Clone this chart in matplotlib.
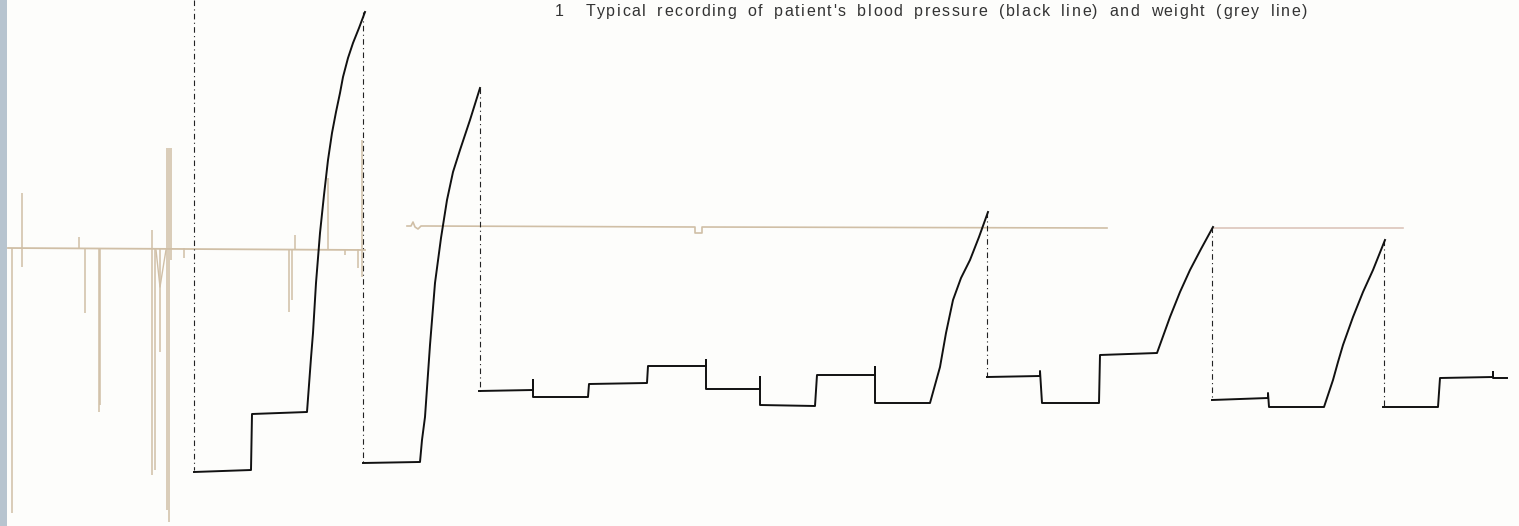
import matplotlib
matplotlib.use("Agg")
import matplotlib.pyplot as plt

# trace values (x = chart position, y = pen height, top = 0)
# blood pressure (black), solid parts between the dash-dotted pen returns
bp_a_x = [194, 251, 252, 307, 309, 311, 313, 316, 320, 324, 328, 332, 336, 340, 343, 348, 353, 359, 365]
bp_a_y = [472, 470, 414, 412, 385, 358, 333, 283, 233, 195, 160, 133, 112, 93, 77, 58, 43, 28, 12]

bp_b_x = [363, 419, 420, 422, 425, 430, 435, 441, 447, 453, 460, 470, 475, 480]
bp_b_y = [463, 462, 462, 440, 417, 345, 283, 238, 200, 172, 150, 120, 104, 88]

bp_c_x = [479, 533, 533, 533, 588, 589, 647, 648, 706, 706, 706, 760, 760, 760,
          815, 817, 875, 875, 875, 930, 935, 940, 946, 953, 961, 970, 979, 988]
bp_c_y = [391, 390, 380, 397, 397, 384, 383, 366, 366, 360, 389, 389, 377, 405,
          406, 375, 375, 367, 403, 403, 385, 367, 333, 300, 278, 260, 237, 212]

bp_d_x = [987, 1040, 1040, 1042, 1099, 1100, 1157, 1170, 1180, 1190, 1201, 1213]
bp_d_y = [377, 376, 371, 403, 403, 355, 353, 317, 292, 270, 249, 227]

bp_e_x = [1212, 1268, 1268, 1269, 1324, 1328, 1333, 1338, 1343, 1353, 1363, 1373, 1385]
bp_e_y = [400, 398, 393, 407, 407, 395, 380, 362, 345, 317, 292, 270, 240]

bp_f_x = [1383, 1438, 1440, 1493, 1493, 1493, 1507]
bp_f_y = [407, 407, 378, 377, 372, 378, 378]

# pen return lines (x, top, bottom)
ret_x = [194, 363, 480, 987, 1212, 1384]
ret_top = [0, 12, 88, 212, 227, 240]
ret_bot = [470, 462, 392, 377, 400, 407]

# weight (grey), first part is noisy
wt1_x = [8, 365]
wt1_y = [248, 250]
spike_x = [12, 22, 79, 85, 99, 100, 152, 155, 160, 167, 169, 171, 184,
           289, 292, 295, 328, 345, 358, 362]
spike_top = [248, 193, 237, 248, 248, 248, 230, 248, 248, 148, 148, 148, 248,
             249, 249, 235, 178, 249, 249, 140]
spike_bot = [513, 267, 249, 313, 412, 405, 475, 470, 352, 510, 522, 260, 258,
             312, 300, 250, 250, 255, 268, 277]
zig_x = [156, 160, 164, 166]
zig_y = [250, 287, 262, 250]

wt2_x = [407, 411, 413, 415, 418, 421, 425, 695, 695, 702, 702, 1107]
wt2_y = [226, 226, 222, 227, 229, 226, 226, 227, 233, 233, 227, 228]

wt3_x = [1213, 1403]
wt3_y = [228, 228]

caption = "1  Typical recording of patient's blood pressure (black line) and weight (grey line)"
caption_start, caption_end = 555, 1307

fig = plt.figure(figsize=(15.19, 5.26), dpi=100)
fig.patch.set_facecolor("#fdfdfb")
ax = fig.add_axes([0, 0, 1, 1])
ax.set_xlim(0, 1519)
ax.set_ylim(526, 0)
ax.axis("off")

# scanned page edge on the left
ax.axvspan(0, 7, color="#b7c4cf", lw=0)

grey = "#d0bfa6"
ax.plot(wt1_x, wt1_y, color=grey, lw=1.3)
ax.vlines(spike_x, spike_top, spike_bot, color=grey, lw=1.1)
ax.plot(zig_x, zig_y, color=grey, lw=1.0)
ax.plot(wt2_x, wt2_y, color=grey, lw=1.2)
ax.plot(wt3_x, wt3_y, color="#dcc5bb", lw=1.2)

ax.vlines(ret_x, ret_top, ret_bot, color="#222222", lw=0.8,
          linestyles=[(0, (5, 3, 1, 3))])

for xs, ys in [(bp_a_x, bp_a_y), (bp_b_x, bp_b_y), (bp_c_x, bp_c_y),
               (bp_d_x, bp_d_y), (bp_e_x, bp_e_y), (bp_f_x, bp_f_y)]:
    ax.plot(xs, ys, color="#111111", lw=1.4, solid_joinstyle="round")

# caption with wide letter spacing like the printed original
renderer = fig.canvas.get_renderer()
fs = 11.5
texts = []
widths = []
for ch in caption:
    t = ax.text(0, 16, ch if ch != " " else "n", fontsize=fs, family="Liberation Sans",
                color="#333333", va="baseline", ha="left")
    w = t.get_window_extent(renderer=renderer).width
    if ch == " ":
        t.set_text("")
        w *= 0.95
    texts.append(t)
    widths.append(w)
tracking = (caption_end - caption_start - sum(widths)) / (len(caption) - 1)
cx = caption_start
for t, w in zip(texts, widths):
    t.set_x(cx)
    cx += w + tracking

fig.savefig("out.png", dpi=100, facecolor=fig.get_facecolor())
